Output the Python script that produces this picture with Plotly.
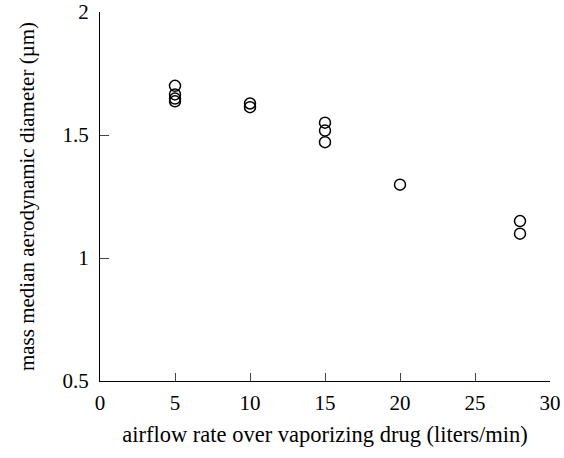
import plotly.graph_objects as go

airflow = [5, 5, 5, 5, 10, 10, 15, 15, 15, 20, 28, 28]
mmad = [1.70, 1.665, 1.648, 1.637, 1.628, 1.613, 1.550, 1.518, 1.471, 1.298, 1.150, 1.099]

x_ticks = [0, 5, 10, 15, 20, 25, 30]
y_ticks = [0.5, 1, 1.5, 2]
y_tick_text = ["0.5", "1", "1.5", "2"]

fig = go.Figure()
fig.add_trace(go.Scatter(
    x=airflow, y=mmad, mode="markers",
    marker=dict(symbol="circle-open", size=11, color="black", line=dict(width=1.5, color="black")),
    showlegend=False, cliponaxis=False,
))

font = dict(family="Liberation Serif, Times New Roman, serif", color="black")
fig.update_layout(
    width=564, height=458,
    margin=dict(l=100, r=14, t=12, b=77, autoexpand=False),
    paper_bgcolor="white", plot_bgcolor="white",
    font=dict(**font, size=21),
    xaxis=dict(
        range=[0, 30], tickvals=x_ticks, ticks="inside", ticklen=8, tickwidth=1.2,
        showline=True, linewidth=1.3, linecolor="black", showgrid=False, zeroline=False,
        tickfont=dict(size=21), ticklabelstandoff=3, automargin=False,
        title=dict(text="airflow rate over vaporizing drug (liters/min)", font=dict(size=22.5), standoff=11),
    ),
    yaxis=dict(
        range=[0.5, 2], tickvals=y_ticks, ticktext=y_tick_text, ticks="inside", ticklen=9, tickwidth=1.2,
        showline=True, linewidth=1.3, linecolor="black", showgrid=False, zeroline=False,
        tickfont=dict(size=21), ticklabelstandoff=6, automargin=False,
        title=dict(text="mass median aerodynamic diameter (µm)", font=dict(size=21), standoff=22),
    ),
)
fig.write_html("out.html")
